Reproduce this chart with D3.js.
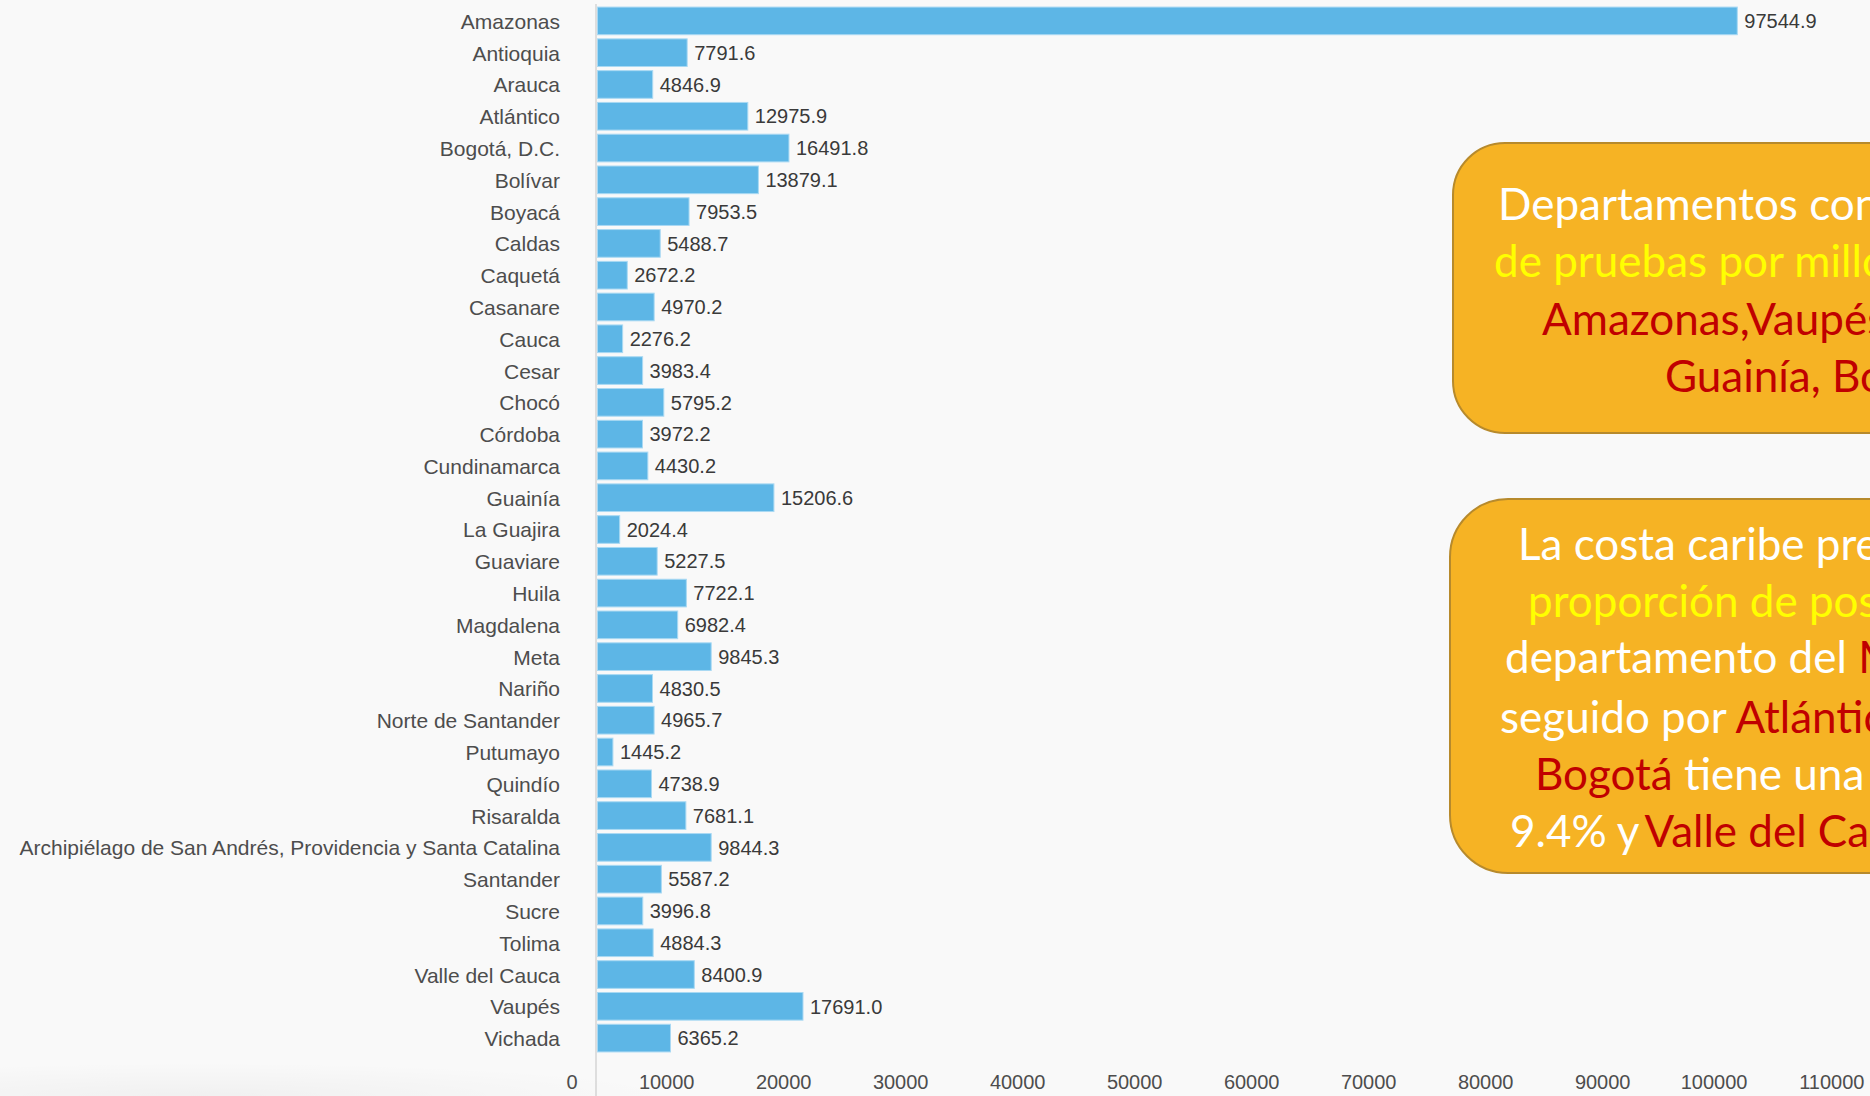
<!DOCTYPE html>
<meta charset="utf-8">
<style>
body { margin: 0; background: #f9f9f9; overflow: hidden; font-family: 'Liberation Sans', Arial, sans-serif; }
.cat text { fill: #4d4d4d; font-size: 21px; }
.val { fill: #3a3a3a; font-size: 20px; }
.xaxis text { fill: #4d4d4d; font-size: 20px; }
.nota { font-family: Lato, 'Open Sans', sans-serif; font-size: 44px; }
</style>
<body>
<script src="https://d3js.org/d3.v7.min.js"></script>
<script>
var width = 1870,
    height = 1096;

var departamentos = ["Amazonas", "Antioquia", "Arauca", "Atlántico", "Bogotá, D.C.", "Bolívar", "Boyacá",
  "Caldas", "Caquetá", "Casanare", "Cauca", "Cesar", "Chocó", "Córdoba", "Cundinamarca", "Guainía",
  "La Guajira", "Guaviare", "Huila", "Magdalena", "Meta", "Nariño", "Norte de Santander", "Putumayo",
  "Quindío", "Risaralda", "Archipiélago de San Andrés, Providencia y Santa Catalina", "Santander",
  "Sucre", "Tolima", "Valle del Cauca", "Vaupés", "Vichada"];
var pruebasPorMillon = [97544.9, 7791.6, 4846.9, 12975.9, 16491.8, 13879.1, 7953.5,
  5488.7, 2672.2, 4970.2, 2276.2, 3983.4, 5795.2, 3972.2, 4430.2, 15206.6,
  2024.4, 5227.5, 7722.1, 6982.4, 9845.3, 4830.5, 4965.7, 1445.2,
  4738.9, 7681.1, 9844.3, 5587.2,
  3996.8, 4884.3, 8400.9, 17691.0, 6365.2];
var xTicks = [0, 10000, 20000, 30000, 40000, 50000, 60000, 70000, 80000, 90000, 100000, 110000];

var data = departamentos.map((d, i) => ({ name: d, value: pruebasPorMillon[i] }));

var svg = d3.select("body").append("svg")
    .attr("width", width)
    .attr("height", height);

// sombra muy suave abajo a la izquierda
var defs = svg.append("defs");
var grad = defs.append("radialGradient").attr("id", "sombra")
  .attr("cx", 0.25).attr("cy", 1).attr("r", 0.6);
grad.append("stop").attr("offset", "0%").attr("stop-color", "#000").attr("stop-opacity", 0.035);
grad.append("stop").attr("offset", "100%").attr("stop-color", "#000").attr("stop-opacity", 0);
svg.append("rect").attr("x", 0).attr("y", 1040).attr("width", 800).attr("height", 56).attr("fill", "url(#sombra)");

var x = d3.scaleLinear().domain([0, 110000]).range([596, 1883]);
var y = d3.scaleBand().domain(departamentos).range([5, 1054]).paddingInner(0.13).paddingOuter(0.065);

// eje vertical
svg.append("line")
  .attr("x1", x(0)).attr("x2", x(0))
  .attr("y1", 4).attr("y2", height)
  .attr("stroke", "#d4d4d4").attr("stroke-width", 1.5);

svg.append("g")
  .attr("class", "cat")
  .attr("transform", "translate(" + x(0) + ",0)")
  .call(d3.axisLeft(y).tickSize(0).tickPadding(36))
  .call(g => g.select(".domain").remove())
  .selectAll("text").attr("font-family", null).attr("font-size", null).attr("dy", "0.38em");

svg.append("g")
  .selectAll("rect")
  .data(data)
  .join("rect")
    .attr("x", x(0) + 1.5)
    .attr("y", d => y(d.name))
    .attr("width", d => x(d.value) - x(0) - 1.5)
    .attr("height", y.bandwidth())
    .attr("fill", "#5db6e6")
    .attr("stroke", "#a9d9f3")
    .attr("stroke-width", 1);

svg.append("g")
  .selectAll("text")
  .data(data)
  .join("text")
    .attr("class", "val")
    .attr("x", d => x(d.value) + 7)
    .attr("y", d => y(d.name) + y.bandwidth() / 2)
    .attr("dy", "0.36em")
    .text(d => d3.format(".1f")(d.value));

svg.append("g")
  .attr("class", "xaxis")
  .attr("transform", "translate(0,1069)")
  .call(d3.axisBottom(x).tickValues(xTicks).tickFormat(d3.format("d")).tickSize(0).tickPadding(6))
  .call(g => g.select(".domain").remove())
  .selectAll("text")
    .attr("font-family", null).attr("font-size", null)
    .attr("text-anchor", "end")
    .attr("dx", -19);

// cuadros de texto
var blanco = "#ffffff", amarillo = "#ffff00", rojo = "#c00000";

function cuadro(bx, by, bh, r, lineas) {
  var g = svg.append("g");
  g.append("rect")
    .attr("x", bx).attr("y", by)
    .attr("width", 700).attr("height", bh)
    .attr("rx", r).attr("ry", r)
    .attr("fill", "#f6b324")
    .attr("stroke", "#b78a2c")
    .attr("stroke-width", 2);
  lineas.forEach(l => {
    var t = g.append("text").attr("class", "nota").attr("x", bx + l.dx).attr("y", l.y);
    l.partes.forEach(p => t.append("tspan").attr("fill", p[1]).attr("dx", p[2] || 0).text(p[0]));
  });
}

cuadro(1453, 143, 290, 52, [
  { dx: 45, y: 220, partes: [["Departamentos con mayor número", blanco]] },
  { dx: 41, y: 277, partes: [["de pruebas por millón de habitantes:", amarillo]] },
  { dx: 89, y: 335, partes: [["Amazonas,Vaupés, Bogotá,", rojo]] },
  { dx: 212, y: 392, partes: [["Guainía, Bolívar", rojo]] }
]);

cuadro(1450, 499, 374, 58, [
  { dx: 68, y: 560, partes: [["La costa caribe presenta la mayor", blanco]] },
  { dx: 78, y: 617, partes: [["proporción de positividad, con el", amarillo]] },
  { dx: 55, y: 673, partes: [["departamento del ", blanco], ["Magdalena", rojo]] },
  { dx: 50, y: 733, partes: [["seguido por ", blanco], ["Atlántico", rojo]] },
  { dx: 85, y: 790, partes: [["Bogotá", rojo], [" tiene una positividad del", blanco]] },
  { dx: 60, y: 847, partes: [["9.4% y", blanco], ["Valle del Cauca", rojo, 6]] }
]);
</script>
